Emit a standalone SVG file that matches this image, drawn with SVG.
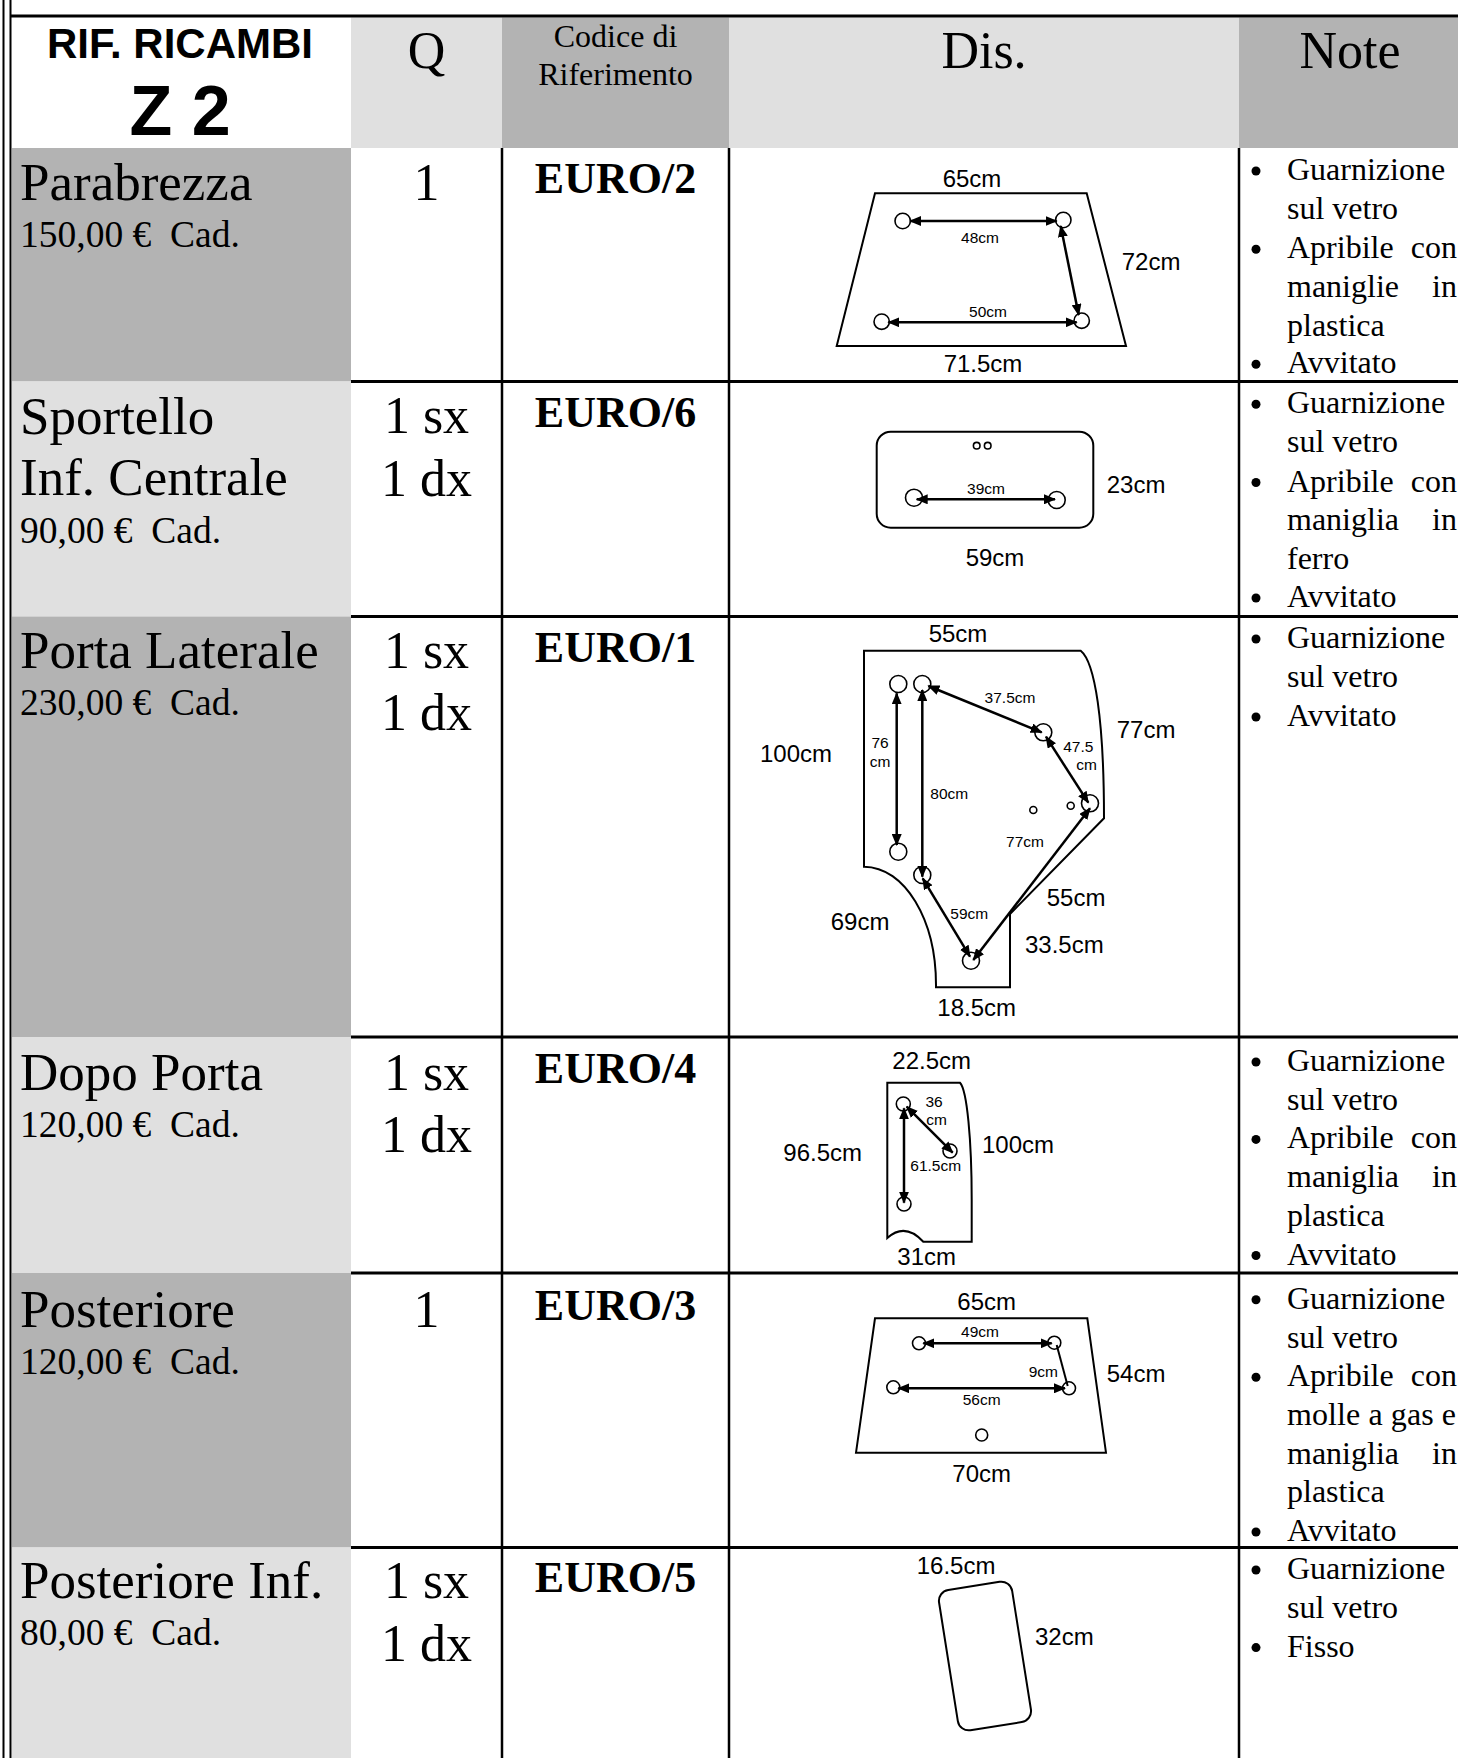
<svg xmlns="http://www.w3.org/2000/svg" width="1458" height="1758" viewBox="0 0 1458 1758">
<style>
.serif{font-family:"Liberation Serif","Times New Roman",serif;fill:#000}
.name{font-size:53px}
.price{font-size:37.5px;white-space:pre}
.q{font-size:52px;text-anchor:middle}
.code{font-size:44px;font-weight:bold;text-anchor:middle}
.hdr{font-size:52px;text-anchor:middle}
.note{font-size:32px}
.noteE{font-size:32px;text-anchor:end}
.sans{font-family:"Liberation Sans",Arial,sans-serif;fill:#000}
.big{font-size:24px}
.sm{font-size:15.5px}
.mid{text-anchor:middle}
.outline{fill:none;stroke:#000;stroke-width:2}
.hole{fill:#fff;stroke:#000;stroke-width:1.6}
.dim{stroke:#000;stroke-width:2.5;fill:none;marker-start:url(#ah);marker-end:url(#ah)}
.plain{stroke:#000;stroke-width:2;fill:none}
.grid{stroke:#000;stroke-width:3}
.vgrid{stroke:#000;stroke-width:2.5}
.dark{fill:#b3b3b3}
.light{fill:#e0e0e0}
</style>
<defs>
<marker id="ah" markerUnits="userSpaceOnUse" markerWidth="12" markerHeight="10" refX="11" refY="5" orient="auto-start-reverse" viewBox="0 0 12 10">
<path d="M0,0 L12,5 L0,10 z" fill="#000"/>
</marker>
</defs>
<rect x="0" y="0" width="1458" height="1758" fill="#fff"/>

<g id="table">
<rect x="12" y="17.5" width="339" height="130.5" fill="#fff"/>
<rect x="351" y="17.5" width="151" height="130.5" class="light"/>
<rect x="502" y="17.5" width="227" height="130.5" class="dark"/>
<rect x="729" y="17.5" width="510" height="130.5" class="light"/>
<rect x="1239" y="17.5" width="219" height="130.5" class="dark"/>
<rect x="12" y="148" width="339" height="233.5" class="dark"/>
<rect x="12" y="381.5" width="339" height="235" class="light"/>
<rect x="12" y="616.5" width="339" height="420.5" class="dark"/>
<rect x="12" y="1037" width="339" height="236" class="light"/>
<rect x="12" y="1273" width="339" height="274.5" class="dark"/>
<rect x="12" y="1547.5" width="339" height="210.5" class="light"/>
<line x1="3.5" y1="0" x2="3.5" y2="1758" stroke="#000" stroke-width="2"/>
<line x1="10.5" y1="0" x2="10.5" y2="1758" stroke="#000" stroke-width="2"/>
<line x1="10" y1="16" x2="1458" y2="16" class="grid"/>
<line x1="351" y1="381.5" x2="1458" y2="381.5" class="grid"/>
<line x1="351" y1="616.5" x2="1458" y2="616.5" class="grid"/>
<line x1="351" y1="1037" x2="1458" y2="1037" class="grid"/>
<line x1="351" y1="1273" x2="1458" y2="1273" class="grid"/>
<line x1="351" y1="1547.5" x2="1458" y2="1547.5" class="grid"/>
<line x1="502" y1="148" x2="502" y2="1758" class="vgrid"/>
<line x1="729" y1="148" x2="729" y2="1758" class="vgrid"/>
<line x1="1239" y1="148" x2="1239" y2="1758" class="vgrid"/>
</g>

<g id="header">
<text x="180" y="58" class="sans mid" font-size="42" font-weight="bold">RIF. RICAMBI</text>
<text x="180" y="134.5" class="sans mid" font-size="70" font-weight="bold">Z 2</text>
<text x="426.5" y="68" class="serif hdr">Q</text>
<text x="615.5" y="47" class="serif mid" font-size="32">Codice di</text>
<text x="615.5" y="85" class="serif mid" font-size="32">Riferimento</text>
<text x="984" y="68" class="serif hdr">Dis.</text>
<text x="1350" y="68" class="serif hdr">Note</text>
</g>

<g id="row-parabrezza">
<text x="20" y="200" class="serif name">Parabrezza</text>
<text x="20" y="247" class="serif price">150,00 €  Cad.</text>
<text x="426.5" y="200" class="serif q">1</text>
<text x="615.5" y="193" class="serif code">EURO/2</text>
<polygon points="875,193.3 1086.7,193.3 1126,346 836.7,346" class="outline"/>
<circle cx="902.7" cy="221" r="7.7" class="hole"/>
<circle cx="1063.3" cy="220" r="7.7" class="hole"/>
<circle cx="881.7" cy="321.7" r="7.7" class="hole"/>
<circle cx="1081.7" cy="320.7" r="7.7" class="hole"/>
<text x="972" y="186.7" class="sans big mid">65cm</text>
<text x="980" y="242.7" class="sans sm mid">48cm</text>
<text x="1121.7" y="270" class="sans big">72cm</text>
<text x="988" y="316.7" class="sans sm mid">50cm</text>
<text x="983" y="371.7" class="sans big mid">71.5cm</text>
<circle cx="1256" cy="171" r="4.5"/>
<text x="1287" y="180" class="serif note">Guarnizione</text>
<text x="1287" y="219" class="serif note">sul vetro</text>
<circle cx="1256" cy="249.3" r="4.5"/>
<text x="1287" y="258.3" class="serif note">Apribile</text>
<text x="1457" y="258.3" class="serif noteE">con</text>
<text x="1287" y="297" class="serif note">maniglie</text>
<text x="1457" y="297" class="serif noteE">in</text>
<text x="1287" y="335.5" class="serif note">plastica</text>
<circle cx="1256" cy="364.3" r="4.5"/>
<text x="1287" y="373.3" class="serif note">Avvitato</text>
</g>

<g id="row-sportello">
<text x="20" y="434" class="serif name">Sportello</text>
<text x="20" y="495" class="serif name">Inf. Centrale</text>
<text x="20" y="543" class="serif price">90,00 €  Cad.</text>
<text x="426.5" y="433" class="serif q">1 sx</text>
<text x="426.5" y="496" class="serif q">1 dx</text>
<text x="615.5" y="427" class="serif code">EURO/6</text>
<rect x="876.7" y="431.7" width="216.6" height="96" rx="14" class="outline"/>
<circle cx="976.7" cy="445.7" r="3.3" class="hole"/>
<circle cx="987.7" cy="445.7" r="3.3" class="hole"/>
<circle cx="914" cy="497.7" r="8.5" class="hole"/>
<circle cx="1056.7" cy="500" r="8.5" class="hole"/>
<text x="986" y="494" class="sans sm mid">39cm</text>
<text x="1106.7" y="493.3" class="sans big">23cm</text>
<text x="995" y="565.7" class="sans big mid">59cm</text>
<circle cx="1256" cy="404.3" r="4.5"/>
<text x="1287" y="413.3" class="serif note">Guarnizione</text>
<text x="1287" y="452" class="serif note">sul vetro</text>
<circle cx="1256" cy="482.5" r="4.5"/>
<text x="1287" y="491.5" class="serif note">Apribile</text>
<text x="1457" y="491.5" class="serif noteE">con</text>
<text x="1287" y="530" class="serif note">maniglia</text>
<text x="1457" y="530" class="serif noteE">in</text>
<text x="1287" y="568.5" class="serif note">ferro</text>
<circle cx="1256" cy="598" r="4.5"/>
<text x="1287" y="607" class="serif note">Avvitato</text>
</g>

<g id="row-porta-laterale">
<text x="20" y="667.7" class="serif name">Porta Laterale</text>
<text x="20" y="715" class="serif price">230,00 €  Cad.</text>
<text x="426.5" y="667.7" class="serif q">1 sx</text>
<text x="426.5" y="730" class="serif q">1 dx</text>
<text x="615.5" y="662" class="serif code">EURO/1</text>
<path d="M864,650.7 L1080.7,650.7 C1095,662 1104,720 1104,818.3 L1010,914 L1010,987.3 L936,987.3 L936,985 C936,920 905,867 864,866.7 Z" class="outline"/>
<circle cx="898.3" cy="684" r="8.5" class="hole"/>
<circle cx="922.3" cy="684" r="8.5" class="hole"/>
<circle cx="1043.3" cy="732.3" r="8.5" class="hole"/>
<circle cx="1090" cy="803.3" r="8.5" class="hole"/>
<circle cx="898.3" cy="851.7" r="8.5" class="hole"/>
<circle cx="922.3" cy="875" r="8.5" class="hole"/>
<circle cx="971" cy="960.7" r="8.5" class="hole"/>
<circle cx="1033.3" cy="810" r="3.5" class="hole"/>
<circle cx="1070.7" cy="805.7" r="3.5" class="hole"/>
<text x="958" y="641.7" class="sans big mid">55cm</text>
<text x="1116.7" y="738.3" class="sans big">77cm</text>
<text x="760" y="761.7" class="sans big">100cm</text>
<text x="880" y="748.3" class="sans sm mid">76</text>
<text x="880" y="767.3" class="sans sm mid">cm</text>
<text x="1010" y="703.3" class="sans sm mid">37.5cm</text>
<text x="1078.3" y="751.7" class="sans sm mid">47.5</text>
<text x="1086.7" y="770" class="sans sm mid">cm</text>
<text x="949.3" y="799.3" class="sans sm mid">80cm</text>
<text x="1025" y="847.3" class="sans sm mid">77cm</text>
<text x="1046.7" y="906" class="sans big">55cm</text>
<text x="830.7" y="930" class="sans big">69cm</text>
<text x="969.3" y="919" class="sans sm mid">59cm</text>
<text x="1025" y="953.3" class="sans big">33.5cm</text>
<text x="976.7" y="1016" class="sans big mid">18.5cm</text>
<circle cx="1256" cy="639" r="4.5"/>
<text x="1287" y="648" class="serif note">Guarnizione</text>
<text x="1287" y="687" class="serif note">sul vetro</text>
<circle cx="1256" cy="717" r="4.5"/>
<text x="1287" y="726" class="serif note">Avvitato</text>
</g>

<g id="row-dopo-porta">
<text x="20" y="1090" class="serif name">Dopo Porta</text>
<text x="20" y="1137" class="serif price">120,00 €  Cad.</text>
<text x="426.5" y="1090" class="serif q">1 sx</text>
<text x="426.5" y="1152" class="serif q">1 dx</text>
<text x="615.5" y="1083" class="serif code">EURO/4</text>
<path d="M887.3,1082.7 L960,1082.7 C967,1090 971.7,1140 971.7,1200 L971.7,1241.7 L923.3,1241.7 Q905,1222 887.3,1238 Z" class="outline"/>
<circle cx="903.3" cy="1104" r="7" class="hole"/>
<circle cx="950" cy="1151" r="7" class="hole"/>
<circle cx="904" cy="1204" r="7" class="hole"/>
<text x="931.7" y="1069.3" class="sans big mid">22.5cm</text>
<text x="934" y="1106.7" class="sans sm mid">36</text>
<text x="936.7" y="1125" class="sans sm mid">cm</text>
<text x="935.7" y="1170.7" class="sans sm mid">61.5cm</text>
<text x="783.3" y="1160.7" class="sans big">96.5cm</text>
<text x="982" y="1153" class="sans big">100cm</text>
<text x="926.7" y="1265" class="sans big mid">31cm</text>
<circle cx="1256" cy="1062" r="4.5"/>
<text x="1287" y="1071" class="serif note">Guarnizione</text>
<text x="1287" y="1109.7" class="serif note">sul vetro</text>
<circle cx="1256" cy="1139.4" r="4.5"/>
<text x="1287" y="1148.4" class="serif note">Apribile</text>
<text x="1457" y="1148.4" class="serif noteE">con</text>
<text x="1287" y="1187" class="serif note">maniglia</text>
<text x="1457" y="1187" class="serif noteE">in</text>
<text x="1287" y="1225.8" class="serif note">plastica</text>
<circle cx="1256" cy="1255.5" r="4.5"/>
<text x="1287" y="1264.5" class="serif note">Avvitato</text>
</g>

<g id="row-posteriore">
<text x="20" y="1326.7" class="serif name">Posteriore</text>
<text x="20" y="1374" class="serif price">120,00 €  Cad.</text>
<text x="426.5" y="1326.7" class="serif q">1</text>
<text x="615.5" y="1320" class="serif code">EURO/3</text>
<polygon points="875,1318.3 1087.3,1318.3 1106,1452.7 856,1452.7" class="outline"/>
<circle cx="919" cy="1343.3" r="6.5" class="hole"/>
<circle cx="1054.3" cy="1342.7" r="6.5" class="hole"/>
<circle cx="893.3" cy="1387.3" r="6.5" class="hole"/>
<circle cx="1069" cy="1388.3" r="6.5" class="hole"/>
<circle cx="981.7" cy="1435" r="6" class="hole"/>
<text x="986.7" y="1310" class="sans big mid">65cm</text>
<text x="980" y="1337.3" class="sans sm mid">49cm</text>
<text x="1043.3" y="1376.7" class="sans sm mid">9cm</text>
<text x="981.7" y="1405" class="sans sm mid">56cm</text>
<text x="1106.7" y="1381.7" class="sans big">54cm</text>
<text x="981.7" y="1481.7" class="sans big mid">70cm</text>
<circle cx="1256" cy="1299.8" r="4.5"/>
<text x="1287" y="1308.8" class="serif note">Guarnizione</text>
<text x="1287" y="1347.5" class="serif note">sul vetro</text>
<circle cx="1256" cy="1377.2" r="4.5"/>
<text x="1287" y="1386.2" class="serif note">Apribile</text>
<text x="1457" y="1386.2" class="serif noteE">con</text>
<text x="1287" y="1424.9" class="serif note" textLength="169" lengthAdjust="spacing">molle a gas e</text>
<text x="1287" y="1463.6" class="serif note">maniglia</text>
<text x="1457" y="1463.6" class="serif noteE">in</text>
<text x="1287" y="1502.3" class="serif note">plastica</text>
<circle cx="1256" cy="1532" r="4.5"/>
<text x="1287" y="1541" class="serif note">Avvitato</text>
</g>

<g id="row-posteriore-inf">
<text x="20" y="1598" class="serif name">Posteriore Inf.</text>
<text x="20" y="1645" class="serif price">80,00 €  Cad.</text>
<text x="426.5" y="1598" class="serif q">1 sx</text>
<text x="426.5" y="1661" class="serif q">1 dx</text>
<text x="615.5" y="1592" class="serif code">EURO/5</text>
<rect x="948" y="1585" width="74" height="142" rx="11" class="outline" transform="rotate(-9 985 1656)"/>
<text x="916.7" y="1574.3" class="sans big">16.5cm</text>
<text x="1035" y="1645" class="sans big">32cm</text>
<circle cx="1256" cy="1570" r="4.5"/>
<text x="1287" y="1579" class="serif note">Guarnizione</text>
<text x="1287" y="1618" class="serif note">sul vetro</text>
<circle cx="1256" cy="1647.6" r="4.5"/>
<text x="1287" y="1656.6" class="serif note">Fisso</text>
</g>

<g id="connectors">
<line x1="910" y1="221" x2="1056.7" y2="221" class="dim"/>
<line x1="1060.7" y1="226" x2="1078.7" y2="315" class="dim"/>
<line x1="888.3" y1="322.3" x2="1076.7" y2="322.3" class="dim"/>
<line x1="916.7" y1="499.3" x2="1055" y2="499.3" class="dim"/>
<line x1="896.7" y1="693.3" x2="896.7" y2="845" class="dim"/>
<line x1="922.3" y1="690" x2="922.3" y2="876.7" class="dim"/>
<line x1="928.3" y1="686" x2="1041.7" y2="732.3" class="dim"/>
<line x1="1046" y1="736.7" x2="1088.3" y2="802.7" class="dim"/>
<line x1="1090" y1="808.3" x2="973.3" y2="960" class="dim"/>
<line x1="922.7" y1="878.3" x2="970" y2="956.7" class="dim"/>
<line x1="904" y1="1108.3" x2="904" y2="1202.7" class="dim"/>
<line x1="906.7" y1="1106.7" x2="952.7" y2="1152.7" class="dim"/>
<line x1="923.3" y1="1343.3" x2="1051.7" y2="1343.3" class="dim"/>
<line x1="898.3" y1="1388.3" x2="1065" y2="1388.3" class="dim"/>
<line x1="1056.7" y1="1345" x2="1067.7" y2="1386" class="plain"/>
</g>
</svg>
